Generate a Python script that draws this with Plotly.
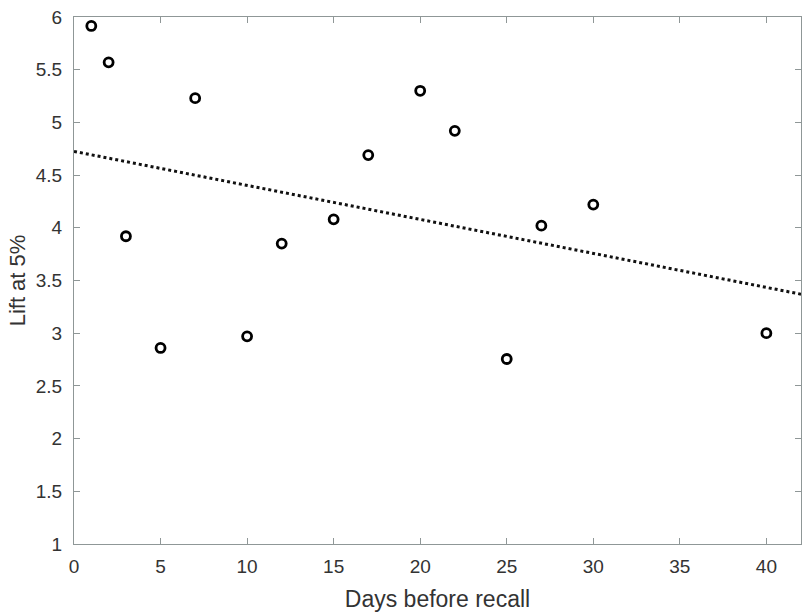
import plotly.graph_objects as go

days = [1, 2, 3, 5, 7, 10, 12, 15, 17, 20, 22, 25, 27, 30, 40]
lift = [5.915, 5.57, 3.92, 2.86, 5.23, 2.97, 3.85, 4.08, 4.69, 5.30, 4.92, 2.755, 4.02, 4.22, 3.00]

trend_x = [0, 42]
trend_y = [4.725, 3.37]

x_ticks = [0, 5, 10, 15, 20, 25, 30, 35, 40]
y_ticks = [1, 1.5, 2, 2.5, 3, 3.5, 4, 4.5, 5, 5.5, 6]

FONT = "Liberation Sans, Arial, Helvetica, sans-serif"
TXT = "#333333"
AX = "#8f9797"

fig = go.Figure()
fig.add_trace(go.Scatter(x=trend_x, y=trend_y, mode="lines",
                         line=dict(color="#111111", width=3, dash="3px,3px"),
                         showlegend=False, hoverinfo="skip"))
fig.add_trace(go.Scatter(x=days, y=lift, mode="markers",
                         marker=dict(symbol="circle-open", size=9, color="#000000",
                                     line=dict(width=2.8, color="#000000")),
                         showlegend=False))

axis_common = dict(showgrid=False, zeroline=False, showline=True, linecolor=AX,
                   linewidth=1.2, mirror="ticks", ticks="inside", ticklen=6,
                   tickcolor=AX, tickwidth=1, automargin=False,
                   ticklabeloverflow="allow",
                   tickfont=dict(family=FONT, size=19, color=TXT))

fig.update_xaxes(range=[0, 42], tickvals=x_ticks, ticktext=[str(v) for v in x_ticks],
                 ticklabelstandoff=5,
                 title=dict(text="Days before recall", standoff=15,
                            font=dict(family=FONT, size=23, color=TXT)),
                 **axis_common)
fig.update_yaxes(range=[1, 6], tickvals=y_ticks, ticktext=[f"{v:g}" for v in y_ticks],
                 ticklabelstandoff=7,
                 title=dict(text="Lift at 5%", standoff=3,
                            font=dict(family=FONT, size=22, color=TXT)),
                 **axis_common)

fig.update_layout(width=812, height=612, plot_bgcolor="white", paper_bgcolor="white",
                  margin=dict(l=74, r=11, t=17, b=68))

fig.write_html("out.html",
               config={"displayModeBar": False},
               post_script="document.body.style.margin='0';document.body.style.overflow='hidden';")
